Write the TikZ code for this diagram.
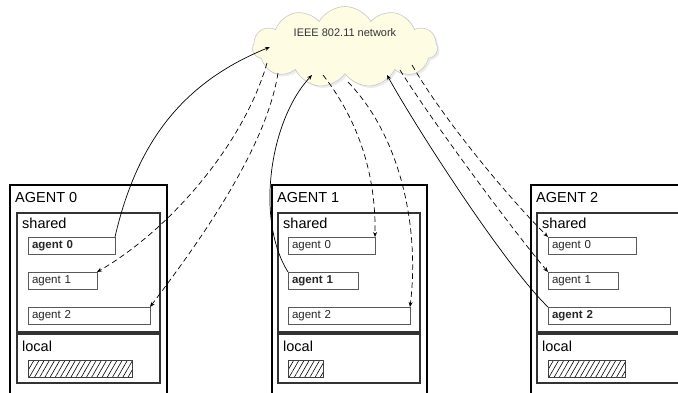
\documentclass[tikz,border=0pt]{standalone}
\usepackage{fontspec}
\setmainfont{Liberation Sans}
\usetikzlibrary{arrows.meta,shapes.symbols,shadows,patterns.meta}
\definecolor{netfill}{RGB}{255,252,228}

\begin{document}
\begin{tikzpicture}[x=1pt,y=-1pt,>={Stealth[length=5pt,width=4pt]},
    agent/.style={draw,line width=2pt,anchor=north west,inner sep=0pt,outer sep=0pt,minimum width=#1,minimum height=240pt},
    area/.style={draw=black!80,line width=1.2pt,anchor=north west,inner sep=0pt,outer sep=0pt,minimum width=#1},
    mem/.style={draw=black!65,line width=0.8pt,anchor=north west,outer sep=0pt,inner xsep=4pt,inner ysep=0pt,minimum height=17pt,text width=#1,align=left,font=\fontsize{11.5}{13}\selectfont,text=black!85},
    hatch/.style={draw=black!75,line width=0.8pt,anchor=north west,outer sep=0pt,minimum width=#1,minimum height=17pt,pattern={Lines[angle=60,distance=4.5pt,line width=0.6pt]}},
    tag/.style={anchor=north west,inner sep=0pt,font=\fontsize{14.5}{17}\selectfont}]
    \useasboundingbox (0,0) rectangle (678,392);
    \clip (0,0) rectangle (678,392);

    % network
    \node[cloud,cloud puffs=11,cloud puff arc=120,minimum width=185pt,minimum height=81pt,draw=black!22,line width=0.6pt,fill=netfill,
        drop shadow={opacity=0.15,shadow xshift=2pt,shadow yshift=-2pt},
        label={[font=\fontsize{11}{13}\selectfont,text=black!80,yshift=14pt]center:IEEE 802.11 network}] (net) at (345,47) {};
    \coordinate (c1) at (270,47);
    \coordinate (c2) at (267,63);
    \coordinate (c3) at (278,73);
    \coordinate (c4) at (312,75);
    \coordinate (c5) at (323,75);
    \coordinate (c6) at (348,82);
    \coordinate (c7) at (387,75);
    \coordinate (c8) at (400,70);
    \coordinate (c9) at (412,65);

    % agent 0
    \node[agent=157pt,label={[tag,xshift=5pt,yshift=-7pt]north west:AGENT 0}] (ag0) at (10,185) {};
    \node[area=143pt,minimum height=119pt,label={[tag,xshift=5pt,yshift=-5pt]north west:shared}] (sh0) at (17,213) {};
    \node[area=143pt,minimum height=49pt,label={[tag,xshift=5pt,yshift=-7pt]north west:local}] (lc0) at (17,334) {};
    \node[mem=79pt] (m0a0) at (28,237) {\textbf{agent 0}};
    \node[mem=61pt] (m0a1) at (28,272) {agent 1};
    \node[mem=114pt] (m0a2) at (28,307) {agent 2};
    \node[hatch=104pt] (h0) at (28,360) {};

    % agent 1
    \node[agent=155pt,label={[tag,xshift=5pt,yshift=-7pt]north west:AGENT 1}] (ag1) at (272,185) {};
    \node[area=142pt,minimum height=119pt,label={[tag,xshift=5pt,yshift=-5pt]north west:shared}] (sh1) at (278,213) {};
    \node[area=142pt,minimum height=49pt,label={[tag,xshift=5pt,yshift=-7pt]north west:local}] (lc1) at (278,334) {};
    \node[mem=79pt] (m1a0) at (288,237) {agent 0};
    \node[mem=62pt] (m1a1) at (288,272) {\textbf{agent 1}};
    \node[mem=114pt] (m1a2) at (288,307) {agent 2};
    \node[hatch=35pt] (h1) at (288,360) {};

    % agent 2
    \node[agent=200pt,label={[tag,xshift=5pt,yshift=-7pt]north west:AGENT 2}] (ag2) at (531,185) {};
    \node[area=180pt,minimum height=119pt,label={[tag,xshift=5pt,yshift=-5pt]north west:shared}] (sh2) at (537,213) {};
    \node[area=180pt,minimum height=49pt,label={[tag,xshift=5pt,yshift=-7pt]north west:local}] (lc2) at (537,334) {};
    \node[mem=80pt] (m2a0) at (548,237) {agent 0};
    \node[mem=62pt] (m2a1) at (548,272) {agent 1};
    \node[mem=114pt] (m2a2) at (548,307) {\textbf{agent 2}};
    \node[hatch=77pt] (h2) at (548,360) {};

    \path[->,line width=0.7pt]
    (m0a0.north east) edge[out=77,in=202] (c1)
    (m1a1.north west) edge[out=122,in=227,looseness=0.8] (c4)
    (m2a2.north west) edge[out=136,in=299,looseness=0.55] (c7);

    \path[->,line width=0.7pt,dash pattern=on 5.5pt off 3.5pt]
    (c2) edge[out=254,in=30,looseness=0.8] (m0a1.north east)
    (c3) edge[out=261,in=53,looseness=0.75] (m0a2.north east)
    (c5) edge[out=308,in=89,looseness=0.9] (m1a0.north east)
    (c6) edge[out=314,in=83,looseness=0.85] (m1a2.north east)
    (c8) edge[out=302,in=130,looseness=0.6] (m2a1.north west)
    (c9) edge[out=300,in=135,looseness=0.7] (m2a0.north west);
\end{tikzpicture}
\end{document}
